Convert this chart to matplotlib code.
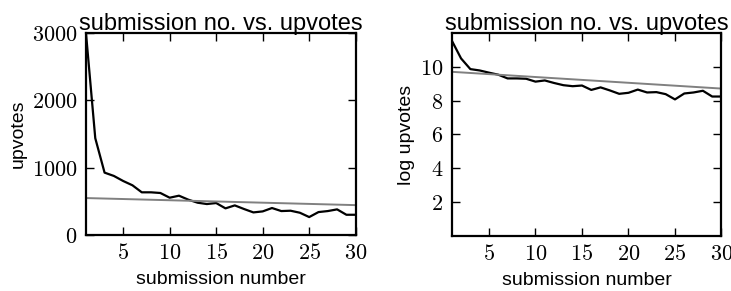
import numpy as np
import matplotlib
matplotlib.use("Agg")
import matplotlib.pyplot as plt
from matplotlib.ticker import FuncFormatter

submission = list(range(1, 31))
upvotes = [3000, 1438, 927, 878, 803, 739, 635, 635, 625, 555,
           585, 526, 481, 461, 476, 397, 441, 387, 337, 352,
           402, 357, 362, 332, 268, 342, 357, 382, 302, 302]
log_upvotes = [11.55, 10.49, 9.86, 9.78, 9.65, 9.53, 9.31, 9.31, 9.29, 9.12,
               9.19, 9.04, 8.91, 8.85, 8.89, 8.63, 8.78, 8.60, 8.40, 8.46,
               8.65, 8.48, 8.50, 8.38, 8.07, 8.42, 8.48, 8.58, 8.24, 8.24]
# fitted trend lines (end points)
fit_x = [1, 30]
fit_upvotes = [550, 445]
fit_log = [9.70, 8.71]

x_ticks = [5, 10, 15, 20, 25, 30]
y_ticks_left = [0, 1000, 2000, 3000]
y_ticks_right = [2, 4, 6, 8, 10]

plt.rcParams['font.family'] = ['Liberation Sans', 'DejaVu Sans']
plt.rcParams['mathtext.fontset'] = 'cm'

fig = plt.figure(figsize=(7.31, 2.91), dpi=100)
ax1 = fig.add_axes([0.1176, 0.192, 0.369, 0.695])
ax2 = fig.add_axes([0.618, 0.189, 0.369, 0.698])

tex = FuncFormatter(lambda v, p: r"$%g$" % v)

def style(ax):
    ax.tick_params(direction='in', top=True, right=True, length=6, width=1,
                   labelsize=16, pad=6)
    for s in ax.spines.values():
        s.set_linewidth(1.6)
    ax.xaxis.set_major_formatter(tex)
    ax.yaxis.set_major_formatter(tex)
    ax.set_xlim(1, 30)
    ax.set_xticks(x_ticks)
    ax.set_xlabel("submission number", fontsize=14, labelpad=5)
    ax.set_title("submission no. vs. upvotes", fontsize=17, pad=2)

ax1.plot(submission, upvotes, color='black', lw=1.6)
ax1.plot(fit_x, fit_upvotes, color='gray', lw=1.4)
style(ax1)
ax1.set_ylim(0, 3000)
ax1.set_yticks(y_ticks_left)
ax1.set_ylabel("upvotes", fontsize=14)

ax2.plot(submission, log_upvotes, color='black', lw=1.6)
ax2.plot(fit_x, fit_log, color='gray', lw=1.4)
style(ax2)
ax2.set_ylim(0, 12)
ax2.set_yticks(y_ticks_right)
ax2.set_ylabel("log upvotes", fontsize=14)

fig.savefig("out.png", dpi=100)
